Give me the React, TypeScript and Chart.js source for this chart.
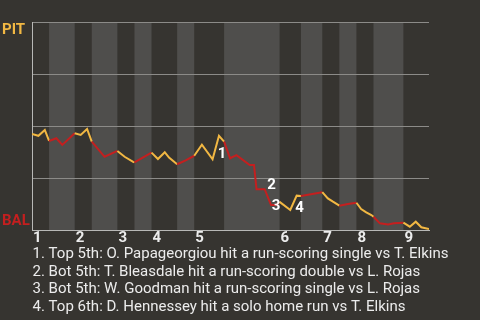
import React, { useEffect, useRef } from "react";
import { Chart, registerables } from "chart.js";

Chart.register(...registerables);

// ---- data ----
const halfInningStarts = [0, 4, 10, 14, 20, 24, 28, 34, 38, 45, 58, 63, 68, 72, 76, 80, 87];
const gameEnd = 93;
const inningLabels = ["1", "2", "3", "4", "5", "6", "7", "8", "9"];
const teamTop = "PIT";
const teamBottom = "BAL";
const yTicks = [0, 0.25, 0.5, 0.75, 1];

const wpX = [
  0, 1.5, 3, 4, 5.7, 7.1, 10, 11.4, 12.9, 14, 17, 20, 21.7, 23.7, 24, 28,
  29.5, 31.1, 32.1, 34, 36, 38, 39.8, 42.3, 43.8, 45, 46.4, 47.9, 51, 52,
  52.6, 54.5, 56, 57.2, 58, 60.5, 62, 63, 68, 69.3, 70.5, 72, 74, 76, 77.1,
  78.3, 79.5, 80, 81.5, 83.4, 84.8, 87, 88.5, 89.9, 91.2, 93,
];
const wpY = [
  0.462, 0.453, 0.481, 0.428, 0.441, 0.409, 0.465, 0.457, 0.486, 0.425, 0.352, 0.38, 0.352, 0.328, 0.325, 0.372,
  0.341, 0.374, 0.348, 0.316, 0.335, 0.357, 0.41, 0.34, 0.453, 0.425, 0.345, 0.36, 0.3125, 0.3125,
  0.196, 0.196, 0.12, 0.12, 0.135, 0.096, 0.165, 0.163, 0.182, 0.152, 0.136, 0.117, 0.125, 0.131, 0.101,
  0.085, 0.072, 0.064, 0.032, 0.027, 0.032, 0.035, 0.016, 0.04, 0.013, 0.005,
];

const keyEventPoint = [24, 31, 33, 36]; // index into wpX / wpY
const keyEventLabels = ["1", "2", "3", "4"];
const keyEventNotes = [
  "1. Top 5th: O. Papageorgiou hit a run-scoring single vs T. Elkins",
  "2. Bot 5th: T. Bleasdale hit a run-scoring double vs L. Rojas",
  "3. Bot 5th: W. Goodman hit a run-scoring single vs L. Rojas",
  "4. Top 6th: D. Hennessey hit a solo home run vs T. Elkins",
];

// ---- styles ----
const BG = "#363430";
const BAND = "#4f4e4c";
const GRID = "#8c8b88";
const AXIS = "#b8b8b6";
const YELLOW = "#f2b843";
const RED = "#c41f1f";
const TEXT = "#ececec";
const FONT = "Roboto, 'Noto Sans', sans-serif";
const labelOffsets = [
  [3, 18],
  [7, -4],
  [0, 1],
  [3, 13],
];

function halfIndexOf(x: number) {
  let idx = 0;
  for (let i = 0; i < halfInningStarts.length; i++) {
    if (x >= halfInningStarts[i]) idx = i;
  }
  return idx;
}

const decorPlugin = {
  id: "decor",
  beforeDraw(chart: any) {
    const { ctx, chartArea, scales } = chart;
    const xs = scales.x;
    ctx.save();
    ctx.fillStyle = BG;
    ctx.fillRect(0, 0, chart.width, chart.height);
    for (let i = 1; i < halfInningStarts.length; i += 2) {
      const s = halfInningStarts[i];
      const e = i + 1 < halfInningStarts.length ? halfInningStarts[i + 1] : gameEnd;
      const x0 = xs.getPixelForValue(s);
      const x1 = xs.getPixelForValue(e);
      ctx.fillStyle = BAND;
      ctx.fillRect(x0, chartArea.top, x1 - x0, chartArea.bottom - chartArea.top);
    }
    ctx.restore();
  },
  afterDatasetsDraw(chart: any) {
    const { ctx, chartArea, scales } = chart;
    const xs = scales.x;
    const ys = scales.y;
    ctx.save();
    // team labels
    ctx.font = `bold 15px ${FONT}`;
    ctx.textAlign = "left";
    ctx.textBaseline = "alphabetic";
    ctx.fillStyle = YELLOW;
    ctx.fillText(teamTop, 2, chartArea.top + 11.5);
    ctx.fillStyle = RED;
    ctx.fillText(teamBottom, 2, chartArea.bottom - 5);
    // inning labels
    ctx.fillStyle = TEXT;
    ctx.font = `bold 15px ${FONT}`;
    inningLabels.forEach((lab, i) => {
      const px = xs.getPixelForValue(halfInningStarts[i * 2]);
      ctx.fillText(lab, px + 1, chartArea.bottom + 12);
    });
    // key event markers
    ctx.textAlign = "center";
    ctx.textBaseline = "middle";
    ctx.fillStyle = "#ffffff";
    keyEventPoint.forEach((pi, i) => {
      const px = xs.getPixelForValue(wpX[pi]);
      const py = ys.getPixelForValue(wpY[pi]);
      ctx.fillText(keyEventLabels[i], px + labelOffsets[i][0], py + labelOffsets[i][1]);
    });
    // notes
    ctx.textAlign = "left";
    ctx.textBaseline = "alphabetic";
    ctx.font = `15px ${FONT}`;
    ctx.fillStyle = TEXT;
    keyEventNotes.forEach((t, i) => {
      ctx.fillText(t, chartArea.left + 0.5, chartArea.bottom + 28 + i * 17.5);
    });
    ctx.restore();
  },
};

export default function App() {
  const ref = useRef<HTMLCanvasElement | null>(null);
  useEffect(() => {
    if (!ref.current) return;
    const points = wpX.map((x, i) => ({ x, y: wpY[i] }));
    const chart = new Chart(ref.current, {
      type: "line",
      data: {
        datasets: [
          {
            data: points,
            borderWidth: 2,
            pointRadius: 0,
            tension: 0,
            borderColor: YELLOW,
            segment: {
              borderColor: (c: any) => {
                const mid = (c.p0.parsed.x + c.p1.parsed.x) / 2;
                return halfIndexOf(mid) % 2 === 0 ? YELLOW : RED;
              },
            },
          },
        ],
      },
      options: {
        animation: false,
        responsive: true,
        maintainAspectRatio: false,
        devicePixelRatio: 1,
        layout: { padding: { left: 32, right: 51, top: 22, bottom: 90 } },
        plugins: { legend: { display: false }, tooltip: { enabled: false } },
        scales: {
          x: {
            type: "linear",
            min: 0,
            max: gameEnd,
            ticks: { display: false },
            grid: { display: false, drawTicks: false },
            border: { display: true, color: AXIS, width: 1 },
          },
          y: {
            min: 0,
            max: 1,
            afterBuildTicks: (s: any) => {
              s.ticks = yTicks.map((v) => ({ value: v }));
            },
            ticks: { display: false },
            grid: { color: GRID, drawTicks: false, lineWidth: 1 },
            border: { display: true, color: AXIS, width: 1 },
          },
        },
      },
      plugins: [decorPlugin],
    });
    return () => chart.destroy();
  }, []);
  return (
    <div style={{ position: "fixed", left: 0, top: 0, width: 480, height: 320, background: BG }}>
      <canvas ref={ref} width={480} height={320} />
    </div>
  );
}
